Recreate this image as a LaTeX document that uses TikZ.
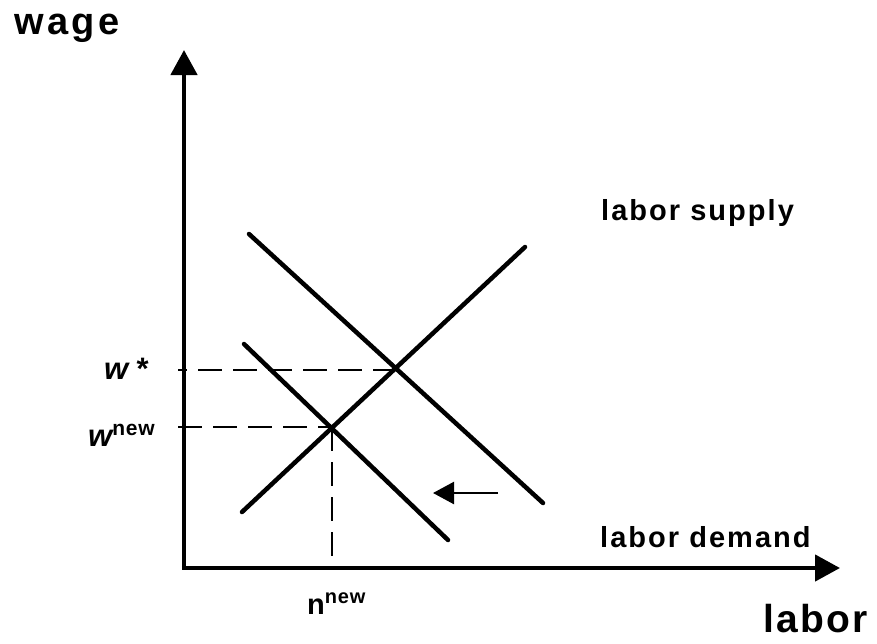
\documentclass[tikz,border=0pt]{standalone}
\usepackage{fontspec}
\setmainfont{Liberation Sans}
\newfontfamily\lblA[LetterSpace=9]{Liberation Sans}
\newfontfamily\lblB[LetterSpace=7]{Liberation Sans}
\newfontfamily\lblC[LetterSpace=6]{Liberation Sans}
\newfontfamily\lblD[LetterSpace=4]{Liberation Sans}
\usetikzlibrary{arrows.meta}
\begin{document}
\begin{tikzpicture}[x=1pt,y=-1pt,
  axis/.style={line width=4.5pt,-{Triangle[length=25pt,width=26pt]}},
  curve/.style={line width=4.5pt,line cap=round},
  guide/.style={line width=2.2pt,dash pattern=on 24pt off 11pt},
  shiftarrow/.style={line width=2.4pt,-{Triangle[length=21pt,width=22pt]}},
  lbl/.style={inner sep=0pt,anchor=base west}]
\useasboundingbox (0,0) rectangle (877,643);
% coordinates
\coordinate (O) at (184,568);
\coordinate (ytip) at (184,50);
\coordinate (xtip) at (840,568);
\coordinate (s1) at (242,512);
\coordinate (s2) at (525,247);
\coordinate (d1a) at (249,234);
\coordinate (d1b) at (543,503);
\coordinate (d2a) at (244,344);
\coordinate (d2b) at (448,540);
\coordinate (E1) at (396,370);
\coordinate (E2) at (332,427);
\coordinate (wstar) at (178,370);
\coordinate (wnew) at (178,427);
\coordinate (nnew) at (332,556);
\coordinate (arA) at (498,493);
\coordinate (arB) at (433,493);
% dashed guides
\draw[guide,dash phase=15pt] (wstar) -- (E1);
\draw[guide] (wnew) -- (E2);
\draw[guide] (E2) -- (nnew);
% axes
\draw[axis] (O) -- (ytip);
\draw[axis] ([xshift=-2.25pt]O) -- (xtip);
% curves
\draw[curve] (s1) -- (s2);
\draw[curve] (d1a) -- (d1b);
\draw[curve] (d2a) -- (d2b);
% shift arrow
\draw[shiftarrow] (arA) -- (arB);
% labels
\node[lbl] (wage) at (14,34) {\lblA\bfseries\fontsize{38}{38}\selectfont wage};
\node[lbl] (ls) at (601,220) {\lblB\bfseries\fontsize{29}{29}\selectfont labor supply};
\node[lbl] (ld) at (600,547) {\lblB\bfseries\fontsize{29}{29}\selectfont labor demand};
\node[lbl] (labor) at (763,632) {\lblC\bfseries\fontsize{39}{39}\selectfont labor};
\node[lbl] (ws) at (104,379) {\lblD\bfseries\itshape\fontsize{31}{31}\selectfont w\hspace{7pt}*};
\node[lbl] (wn) at (88,446) {\bfseries\itshape\fontsize{31}{31}\selectfont w\raisebox{11pt}{\lblD\upshape\bfseries\fontsize{21}{21}\selectfont new}};
\node[lbl] (nn) at (307,614) {\bfseries\fontsize{29}{29}\selectfont n\raisebox{11pt}{\lblD\bfseries\fontsize{20}{20}\selectfont new}};
\end{tikzpicture}
\end{document}
